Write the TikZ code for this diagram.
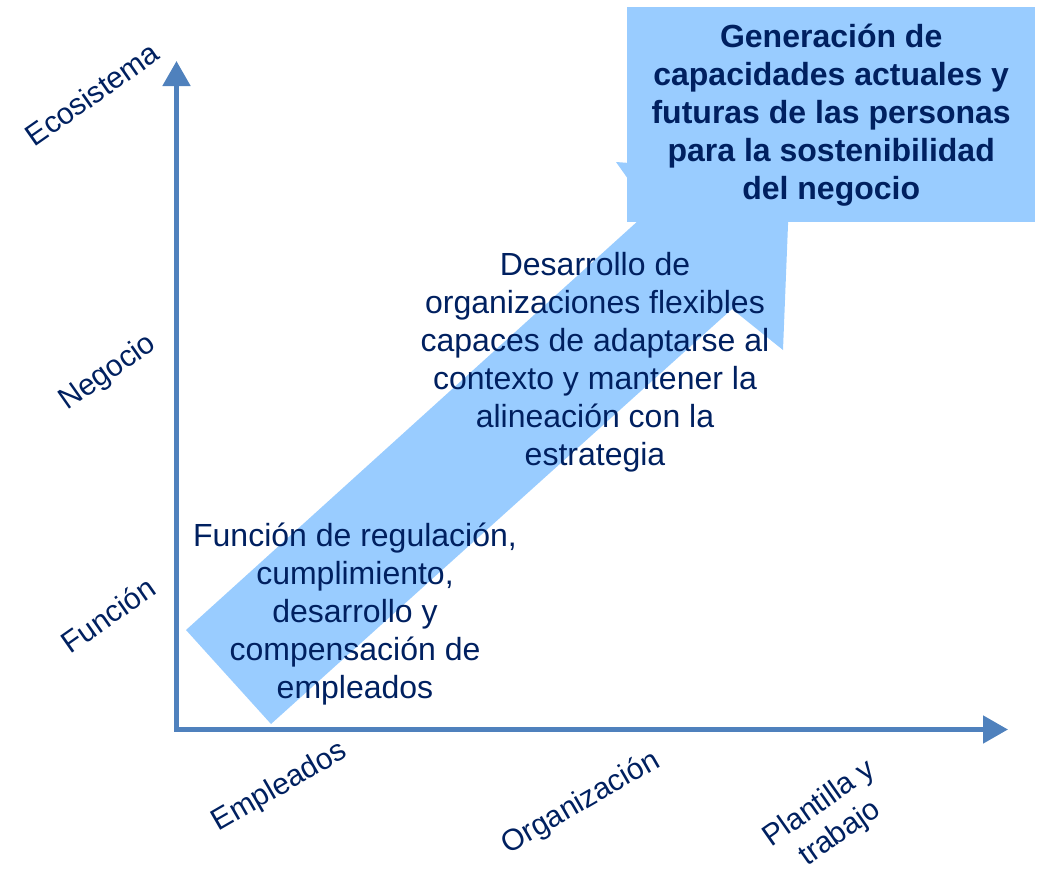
\documentclass[tikz,border=0pt]{standalone}
\usepackage{fontspec}
\setmainfont{Liberation Sans}
\usetikzlibrary{arrows.meta}
\definecolor{navy}{HTML}{002060}
\definecolor{axisblue}{HTML}{4F81BD}
\definecolor{lightblue}{HTML}{99CCFF}
\begin{document}
\begin{tikzpicture}[x=1pt,y=-1pt,
  axis/.style={draw=axisblue,line width=5pt,line join=miter,{Triangle[length=25pt,width=27pt]}-{Triangle[length=25pt,width=27pt]}},
  lbl/.style={text=navy,font=\fontsize{30}{36}\selectfont,inner sep=0pt,align=center},
  body/.style={text=navy,font=\fontsize{32}{38}\selectfont,inner sep=0pt,align=center},
  goalbox/.style={fill=lightblue,minimum width=408pt,minimum height=215pt,inner sep=0pt,text=navy,font=\bfseries\fontsize{32}{38}\selectfont,align=center}
]
\useasboundingbox (0,0) rectangle (1037,870);
% big diagonal arrow
\fill[lightblue] (186,630) -- (271,724) -- (732,309) -- (783,350) -- (790,175) -- (616,162) -- (650,210) -- cycle;
% goal box
\node[goalbox,anchor=north west] (goal) at (627,7) {Generación de\\capacidades actuales y\\futuras de las personas\\para la sostenibilidad\\del negocio};
% axes
\coordinate (corner) at (176.5,729.5);
\coordinate (ytip) at (176.5,61);
\coordinate (xtip) at (1008,729.5);
\draw[axis] (ytip) -- (corner) -- (xtip);
% texts
\node[body] (t1) at (355,614) {Función de regulación,\\cumplimiento,\\desarrollo y\\compensación de\\empleados};
\node[body] (t2) at (595,362) {Desarrollo de\\organizaciones flexibles\\capaces de adaptarse al\\contexto y mantener la\\alineación con la\\estrategia};
% axis labels
\node[lbl,rotate=35] (eco) at (92,94) {Ecosistema};
\node[lbl,rotate=35] (neg) at (108,373) {Negocio};
\node[lbl,rotate=35] (fun) at (108,615) {Función};
\node[lbl,rotate=30] (emp) at (280,787) {Empleados};
\node[lbl,rotate=30] (org) at (581,803) {Organización};
\node[lbl,rotate=35] (pla) at (830,819) {Plantilla y\\trabajo};
\end{tikzpicture}
\end{document}
